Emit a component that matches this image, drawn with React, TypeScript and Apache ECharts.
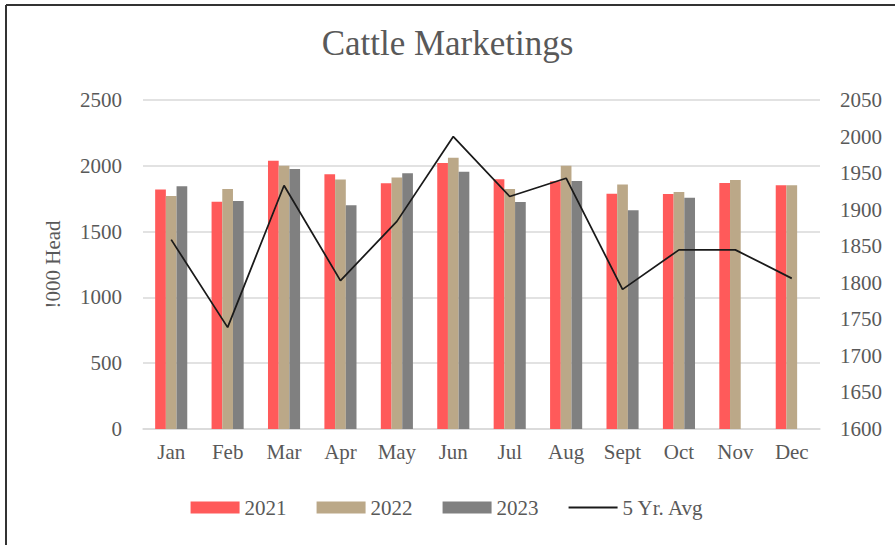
import React, { useEffect, useRef } from "react";
import * as echarts from "echarts";

const months = ["Jan", "Feb", "Mar", "Apr", "May", "Jun", "Jul", "Aug", "Sept", "Oct", "Nov", "Dec"];
const y2021 = [1819, 1727, 2039, 1935, 1867, 2021, 1897, 1882, 1788, 1786, 1869, 1852];
const y2022 = [1770, 1824, 2001, 1895, 1912, 2062, 1824, 2001, 1857, 1801, 1892, 1852];
const y2023 = [1844, 1732, 1976, 1700, 1943, 1955, 1725, 1884, 1662, 1758, null, null];
const avg5 = [1859, 1739, 1933, 1803, 1884, 2000, 1918, 1943, 1791, 1845, 1845, 1806];

const FONT = "'Liberation Serif', 'DejaVu Serif', serif";
const TXT = "#595959";

export default function App() {
  const ref = useRef<HTMLDivElement>(null);
  useEffect(() => {
    if (!ref.current) return;
    const chart = echarts.init(ref.current, null, { renderer: "svg" });
    const barW = 10.7;
    const plain = (v: number) => String(v);
    chart.setOption({
      animation: false,
      backgroundColor: "#ffffff",
      textStyle: { fontFamily: FONT, color: TXT },
      title: {
        text: "Cattle Marketings",
        left: "center",
        top: 21,
        textStyle: { fontFamily: FONT, fontSize: 35, fontWeight: "normal", color: TXT },
      },
      graphic: [
        { type: "line", shape: { x1: 6, y1: 5, x2: 895, y2: 5 }, style: { stroke: "#333", lineWidth: 2 } },
        { type: "line", shape: { x1: 6, y1: 5, x2: 6, y2: 545 }, style: { stroke: "#333", lineWidth: 2 } },
      ],
      legend: {
        bottom: 22,
        left: "center",
        itemWidth: 49,
        itemHeight: 12,
        itemGap: 30,
        textStyle: { fontFamily: FONT, fontSize: 21, color: TXT },
        data: [
          { name: "2021", icon: "rect" },
          { name: "2022", icon: "rect" },
          { name: "2023", icon: "rect" },
          { name: "5 Yr. Avg", icon: "path://M0,0 H49 V2 H0 Z" },
        ],
      },
      grid: { left: 143, right: 75, top: 100, bottom: 116, containLabel: false },
      xAxis: {
        type: "category",
        data: months,
        axisLine: { show: true, lineStyle: { color: "#d9d9d9", width: 1.5 } },
        axisTick: { show: false },
        axisLabel: { fontFamily: FONT, fontSize: 21, color: TXT, margin: 12 },
      },
      yAxis: [
        {
          type: "value",
          min: 0,
          max: 2500,
          interval: 500,
          name: "!000 Head",
          nameLocation: "middle",
          nameGap: 80,
          nameRotate: 90,
          nameTextStyle: { fontFamily: FONT, fontSize: 21, color: TXT },
          axisLine: { show: false },
          axisTick: { show: false },
          axisLabel: { fontFamily: FONT, fontSize: 21, color: TXT, margin: 21, formatter: plain },
          splitLine: { show: true, lineStyle: { color: "#d9d9d9", width: 1.5 } },
        },
        {
          type: "value",
          min: 1600,
          max: 2050,
          interval: 50,
          position: "right",
          axisLine: { show: false },
          axisTick: { show: false },
          axisLabel: { fontFamily: FONT, fontSize: 21, color: TXT, margin: 20, formatter: plain },
          splitLine: { show: false },
        },
      ],
      series: [
        { name: "2021", type: "bar", data: y2021, barWidth: barW, barGap: "0%", itemStyle: { color: "#FF5A5A" } },
        { name: "2022", type: "bar", data: y2022, barWidth: barW, barGap: "0%", itemStyle: { color: "#BBA888" } },
        { name: "2023", type: "bar", data: y2023, barWidth: barW, barGap: "0%", itemStyle: { color: "#808080" } },
        {
          name: "5 Yr. Avg",
          type: "line",
          yAxisIndex: 1,
          data: avg5,
          showSymbol: false,
          symbol: "none",
          lineStyle: { color: "#1a1a1a", width: 1.75 },
          itemStyle: { color: "#1a1a1a" },
        },
      ],
    });
    return () => chart.dispose();
  }, []);
  return <div ref={ref} style={{ position: "absolute", left: 0, top: 0, width: 895, height: 545 }} />;
}
